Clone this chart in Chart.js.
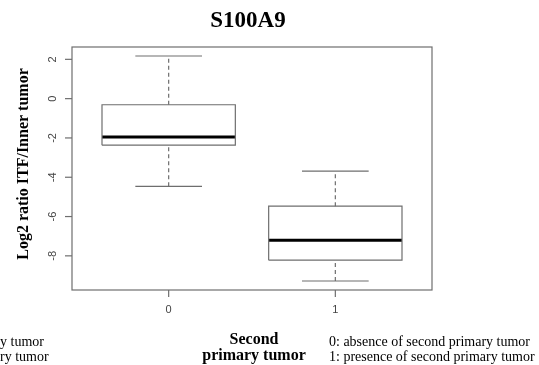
<!DOCTYPE html>
<html>
<head>
<meta charset="utf-8">
<script src="https://cdn.jsdelivr.net/npm/chart.js@4/dist/chart.umd.min.js"></script>
<style>
  html, body { margin: 0; padding: 0; background: #fff; }
  #chart { display: block; }
</style>
</head>
<body>
<canvas id="chart" width="539" height="365"></canvas>
<script>
// box summaries
const categories = ['0', '1'];
const catPos = [0, 1];
const lowerWhisker = [-4.46, -9.28];
const q1 = [-2.37, -8.22];
const median = [-1.95, -7.21];
const q3 = [-0.31, -5.47];
const upperWhisker = [2.17, -3.69];
const yTicks = [-8, -6, -4, -2, 0, 2];

const titleText = 'S100A9';
const yTitle = 'Log2 ratio ITF/Inner tumor';
const xTitle = ['Second', 'primary tumor'];
const legendLines = ['0: absence of second primary tumor', '1: presence of second primary tumor'];

const BOX_HALF = 0.4;
const CAP_HALF = 0.2;
const GREY = '#6e6e6e';

// R style range: data range plus 4% on each side
const lo = Math.min(...lowerWhisker), hi = Math.max(...upperWhisker);
const pad = (hi - lo) * 0.04;

const datasets = [];
catPos.forEach(function (x, i) {
    const line = { pointRadius: 0, borderColor: GREY, borderWidth: 1.2, fill: false, tension: 0 };
    datasets.push(Object.assign({}, line, {
        data: [
            { x: x - BOX_HALF, y: q1[i] }, { x: x + BOX_HALF, y: q1[i] },
            { x: x + BOX_HALF, y: q3[i] }, { x: x - BOX_HALF, y: q3[i] },
            { x: x - BOX_HALF, y: q1[i] },
        ],
    }));
    datasets.push(Object.assign({}, line, {
        data: [{ x: x, y: q3[i] }, { x: x, y: upperWhisker[i] }],
        borderDash: [4, 3],
    }));
    datasets.push(Object.assign({}, line, {
        data: [{ x: x, y: lowerWhisker[i] }, { x: x, y: q1[i] }],
        borderDash: [4, 3],
    }));
    datasets.push(Object.assign({}, line, {
        data: [{ x: x - CAP_HALF, y: upperWhisker[i] }, { x: x + CAP_HALF, y: upperWhisker[i] }],
    }));
    datasets.push(Object.assign({}, line, {
        data: [{ x: x - CAP_HALF, y: lowerWhisker[i] }, { x: x + CAP_HALF, y: lowerWhisker[i] }],
    }));
    datasets.push(Object.assign({}, line, {
        data: [{ x: x - BOX_HALF, y: median[i] }, { x: x + BOX_HALF, y: median[i] }],
        borderColor: '#000',
        borderWidth: 3,
        borderCapStyle: 'butt',
    }));
});

// frame, ticks and texts drawn the way R's base graphics does
const rAxes = {
    id: 'rAxes',
    afterDraw(chart) {
        const ctx = chart.ctx;
        const area = chart.chartArea;
        const xs = chart.scales.x, ys = chart.scales.y;
        ctx.save();
        ctx.strokeStyle = GREY;
        ctx.lineWidth = 1.2;
        ctx.strokeRect(area.left, area.top, area.right - area.left, area.bottom - area.top);

        ctx.fillStyle = '#444';
        ctx.font = '11px "Liberation Sans", Arial, sans-serif';
        ctx.textAlign = 'center';
        ctx.textBaseline = 'middle';
        yTicks.forEach(function (v) {
            const py = ys.getPixelForValue(v);
            ctx.beginPath();
            ctx.moveTo(area.left - 7, py);
            ctx.lineTo(area.left, py);
            ctx.stroke();
            ctx.save();
            ctx.translate(area.left - 19, py);
            ctx.rotate(-Math.PI / 2);
            ctx.fillText(String(v), 0, 0);
            ctx.restore();
        });
        catPos.forEach(function (v, i) {
            const px = xs.getPixelForValue(v);
            ctx.beginPath();
            ctx.moveTo(px, area.bottom);
            ctx.lineTo(px, area.bottom + 7);
            ctx.stroke();
            ctx.fillText(categories[i], px, area.bottom + 20);
        });

        ctx.fillStyle = '#000';
        ctx.font = 'bold 23px "Liberation Serif", "Times New Roman", serif';
        ctx.textBaseline = 'alphabetic';
        ctx.fillText(titleText, 248, 27);

        ctx.font = 'bold 16px "Liberation Serif", "Times New Roman", serif';
        ctx.save();
        ctx.translate(28, 164);
        ctx.rotate(-Math.PI / 2);
        ctx.fillText(yTitle, 0, 0);
        ctx.restore();

        ctx.fillText(xTitle[0], 254, 344);
        ctx.fillText(xTitle[1], 254, 360);

        ctx.font = '14px "Liberation Serif", "Times New Roman", serif';
        ctx.textAlign = 'left';
        [329, -157].forEach(function (lx) {
            ctx.fillText(legendLines[0], lx, 346);
            ctx.fillText(legendLines[1], lx, 360.5);
        });
        ctx.restore();
    },
};

new Chart(document.getElementById('chart'), {
    type: 'line',
    data: { datasets: datasets },
    options: {
        responsive: false,
        animation: false,
        layout: { padding: { left: 72, right: 107, top: 47, bottom: 75 } },
        plugins: { legend: { display: false }, tooltip: { enabled: false } },
        scales: {
            x: { type: 'linear', display: false, min: -0.58, max: 1.58 },
            y: { type: 'linear', display: false, min: lo - pad, max: hi + pad },
        },
    },
    plugins: [rAxes],
});
</script>
</body>
</html>
